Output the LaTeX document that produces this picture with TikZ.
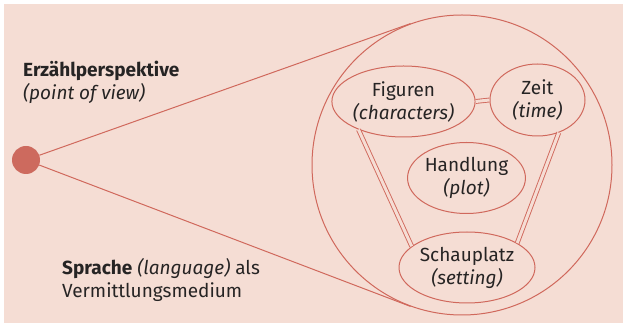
\documentclass[tikz,border=0pt]{standalone}
\usepackage{fontspec}
\setmainfont{Fira Sans}
\usetikzlibrary{shapes.geometric}
\definecolor{bgpink}{RGB}{245,221,212}
\definecolor{linered}{RGB}{208,104,92}
\definecolor{dotred}{RGB}{205,106,94}
\definecolor{txt}{RGB}{38,36,36}
\tikzset{
  oval/.style={ellipse, draw=linered, line width=1pt, inner sep=0pt, align=center, text=txt, font=\fontsize{19}{23}\selectfont},
  conn/.style={draw=linered, line width=1pt},
  dbl/.style={draw=linered, line width=0.9pt, double=bgpink, double distance=3pt},
  lbl/.style={anchor=base west, text=txt, inner sep=0pt, font=\fontsize{19}{23}\selectfont}
}
\begin{document}
\begin{tikzpicture}[x=1pt,y=-1pt]
\useasboundingbox (0,0) rectangle (627,328);
\fill[white] (0,0) rectangle (627,328);
\fill[bgpink] (4,4) rectangle (623,323);
\node[circle, draw=linered, line width=1pt, minimum size=300pt, inner sep=0pt] (big) at (462,165) {};
\node[circle, fill=dotred, minimum size=28pt, inner sep=0pt] (dot) at (26,160) {};
\draw[conn] (dot) -- (big.110);
\draw[conn] (dot) -- (big.250);
\node[oval, minimum width=127pt, minimum height=71pt] (fig) at (403.5,101.5) {Figuren\\\itshape(characters)};
\node[oval, minimum width=95pt, minimum height=72pt] (zeit) at (537.5,100) {Zeit\\\itshape(time)};
\node[oval, minimum width=111pt, minimum height=71pt] (hand) at (466.5,178) {Handlung\\\itshape(plot)};
\node[oval, minimum width=136pt, minimum height=71pt] (scha) at (467,267.5) {Schauplatz\\\itshape(setting)};
\draw[dbl] (fig.east) -- (zeit.west);
\draw[dbl] (fig.212) -- (scha.159);
\draw[dbl] (zeit.303) -- (scha.26);
\node[lbl] (ep) at (23,77) {\bfseries Erzählperspektive};
\node[lbl] (pov) at (23,100) {\itshape(point of view)};
\node[lbl] (spr) at (62,275) {\textbf{Sprache} \textit{(language)} als};
\node[lbl] (ver) at (62,298) {Vermittlungsmedium};
\end{tikzpicture}
\end{document}
